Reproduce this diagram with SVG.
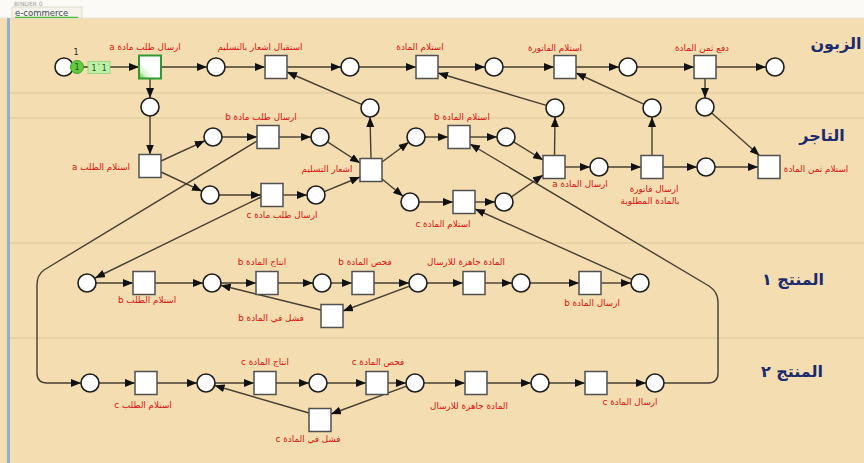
<svg xmlns="http://www.w3.org/2000/svg" width="864" height="463" viewBox="0 0 864 463">
  <style>
    .pl { fill: #ffffff; stroke: #1e1e1e; stroke-width: 1.6; }
    .tr { fill: #ffffff; stroke: #505050; stroke-width: 1.5; }
    .arc { fill: none; stroke: #463e30; stroke-width: 1.4; marker-end: url(#arr); }
    .lbl { font-family: "DejaVu Sans", sans-serif; font-size: 8.8px; fill: #e01010; text-anchor: middle; }
    .lane { font-family: "DejaVu Sans", sans-serif; font-size: 16px; font-weight: bold; fill: #1c2a6e; text-anchor: middle; }
    .sep { stroke: #dcc79c; stroke-width: 1.2; }
  </style>
  <defs>
    <marker id="arr" viewBox="0 0 10 10" refX="10" refY="5" markerWidth="10" markerHeight="8" markerUnits="userSpaceOnUse" orient="auto" preserveAspectRatio="none">
      <path d="M0,0 L10,5 L0,10 z" fill="#111111"/>
    </marker>
    <linearGradient id="enabled" x1="0" y1="1" x2="1" y2="0">
      <stop offset="0" stop-color="#4fc63a"/>
      <stop offset="0.22" stop-color="#d9f5cf"/>
      <stop offset="0.4" stop-color="#ffffff"/>
    </linearGradient>
  </defs>

  <!-- page background, window strip and lane separators -->
  <rect x="0" y="0" width="864" height="463" fill="#f4deb1"/>
  <rect x="0" y="0" width="864" height="18" fill="#fbfaf6"/>
  <line x1="0" y1="18" x2="864" y2="18" stroke="#e6e2d6" stroke-width="1"/>
  <text x="14" y="6" font-family="DejaVu Sans, sans-serif" font-size="6" fill="#9a9a9a">BINDER 0</text>
  <rect x="12" y="7" width="70" height="11" fill="#f6f3ea" stroke="#d8d4c8" stroke-width="0.8"/>
  <text x="15" y="15.5" font-family="DejaVu Sans, sans-serif" font-size="8.5" fill="#40505a">e-commerce</text>
  <line x1="15" y1="17.4" x2="78" y2="17.4" stroke="#4cbc3c" stroke-width="1.4"/>
  <rect x="7" y="18" width="3" height="445" fill="#8fb0d2"/>
  <line class="sep" x1="10" y1="93" x2="864" y2="93"/>
  <line class="sep" x1="10" y1="118" x2="864" y2="118"/>
  <line class="sep" x1="10" y1="243" x2="864" y2="243"/>
  <line class="sep" x1="10" y1="338" x2="864" y2="338"/>

  <!-- lane titles -->
  <text class="lane" x="836" y="49" direction="rtl">الزبون</text>
  <text class="lane" x="822" y="141" direction="rtl">التاجر</text>
  <text class="lane" x="793" y="285" direction="rtl">المنتج ١</text>
  <text class="lane" x="792" y="377" direction="rtl">المنتج ٢</text>

  <!-- arcs -->
  <g id="connectors">
    <!-- customer -->
    <path class="arc" d="M73,67 L139,67"/>
    <path class="arc" d="M161,67 L207,67"/>
    <path class="arc" d="M225,67 L265,67"/>
    <path class="arc" d="M287,67 L341,67"/>
    <path class="arc" d="M359,67 L416,67"/>
    <path class="arc" d="M438,67 L485,67"/>
    <path class="arc" d="M503,67 L554,67"/>
    <path class="arc" d="M576,67 L619,67"/>
    <path class="arc" d="M637,67 L694,67"/>
    <path class="arc" d="M716,67 L766,67"/>
    <path class="arc" d="M150,78.5 L150,98"/>
    <path class="arc" d="M705,78.5 L705,98"/>
    <path class="arc" d="M150,116 L150,154.5"/>
    <path class="arc" d="M711.7,113 L759.5,155.5"/>
    <!-- merchant -->
    <path class="arc" d="M161,161 L204.8,140.8"/>
    <path class="arc" d="M161,172 L201.9,191.2"/>
    <path class="arc" d="M222,137 L257,137"/>
    <path class="arc" d="M279,137 L311,137"/>
    <path class="arc" d="M219,195 L261,195"/>
    <path class="arc" d="M283,195 L307,195"/>
    <path class="arc" d="M327.5,141.9 L360,163"/>
    <path class="arc" d="M324.3,191.6 L360,177"/>
    <path class="arc" d="M371,158.5 L370,117"/>
    <path class="arc" d="M361.7,104.4 L287,72"/>
    <path class="arc" d="M382,162 L408.7,142.3"/>
    <path class="arc" d="M382,179 L403,196.3"/>
    <path class="arc" d="M425,137 L448,137"/>
    <path class="arc" d="M470,137 L497,137"/>
    <path class="arc" d="M419,202 L453,202"/>
    <path class="arc" d="M475,202 L495,202"/>
    <path class="arc" d="M513.6,141.8 L543,160"/>
    <path class="arc" d="M511.4,196.9 L543,175"/>
    <path class="arc" d="M554.5,155.5 L555,117"/>
    <path class="arc" d="M546.4,105.4 L438,73"/>
    <path class="arc" d="M565,167 L590,167"/>
    <path class="arc" d="M608,167 L641,167"/>
    <path class="arc" d="M652,155.5 L652,117"/>
    <path class="arc" d="M643.8,104.2 L576,73"/>
    <path class="arc" d="M663,167 L697,167"/>
    <path class="arc" d="M715,167 L758,167"/>
    <!-- between lanes -->
    <path class="arc" d="M257,141 L44,270 Q37,275 37,285 L37,373 Q37,383 47,383 L81,383"/>
    <path class="arc" d="M261,197 L95.1,278"/>
    <path class="arc" d="M631.8,279.3 L475,209"/>
    <path class="arc" d="M664,383 L708,383 Q718,383 718,373 L718,302 Q718,292 709,286 L470,144"/>
    <!-- producer 1 -->
    <path class="arc" d="M96,283 L133,283"/>
    <path class="arc" d="M155,283 L203,283"/>
    <path class="arc" d="M221,283 L256,283"/>
    <path class="arc" d="M278,283 L313,283"/>
    <path class="arc" d="M331,283 L352,283"/>
    <path class="arc" d="M374,283 L409,283"/>
    <path class="arc" d="M427,283 L463,283"/>
    <path class="arc" d="M485,283 L512,283"/>
    <path class="arc" d="M530,283 L579,283"/>
    <path class="arc" d="M601,283 L631,283"/>
    <path class="arc" d="M409.6,286.1 L343,311"/>
    <path class="arc" d="M321,310 L220.7,285.2"/>
    <!-- producer 2 -->
    <path class="arc" d="M99,383 L135,383"/>
    <path class="arc" d="M157,383 L197,383"/>
    <path class="arc" d="M215,383 L254,383"/>
    <path class="arc" d="M276,383 L309,383"/>
    <path class="arc" d="M327,383 L366,383"/>
    <path class="arc" d="M388,383 L406,383"/>
    <path class="arc" d="M424,383 L465,383"/>
    <path class="arc" d="M487,383 L531,383"/>
    <path class="arc" d="M549,383 L585,383"/>
    <path class="arc" d="M607,383 L646,383"/>
    <path class="arc" d="M406.6,386.1 L331,414"/>
    <path class="arc" d="M309,413 L214.6,385.5"/>
  </g>

  <!-- customer lane -->
  <g id="c-start">
    <circle class="pl" cx="64" cy="67" r="9"/>
    <text x="76" y="55" font-family="DejaVu Sans, sans-serif" font-size="8" fill="#222" text-anchor="middle">1</text>
    <circle cx="77" cy="67" r="6.5" fill="#62cc3e" stroke="#38a51e" stroke-width="1"/>
    <text x="77" y="70" font-family="DejaVu Sans, sans-serif" font-size="8" fill="#1d4a12" text-anchor="middle">1</text>
    <rect x="88" y="61.5" width="22" height="12" fill="#bff0a8" stroke="#8fd278" stroke-width="0.8"/>
    <text x="99" y="71" font-family="DejaVu Sans Mono, monospace" font-size="8.5" fill="#1f5f14" text-anchor="middle">1`1</text>
  </g>
  <g id="c-send-order-a">
    <rect x="139" y="55.5" width="22" height="23" fill="url(#enabled)" stroke="#2f9a2f" stroke-width="2"/>
    <text class="lbl" x="145" y="50" direction="rtl">ارسال طلب مادة a</text>
  </g>
  <g id="c-p1"><circle class="pl" cx="216" cy="67" r="9"/></g>
  <g id="c-receive-notice">
    <rect class="tr" x="265" y="55.5" width="22" height="23"/>
    <text class="lbl" x="260" y="50" direction="rtl">استقبال اشعار بالتسليم</text>
  </g>
  <g id="c-p2"><circle class="pl" cx="350" cy="67" r="9"/></g>
  <g id="c-receive-goods">
    <rect class="tr" x="416" y="55.5" width="22" height="23"/>
    <text class="lbl" x="420" y="50" direction="rtl">استلام المادة</text>
  </g>
  <g id="c-p3"><circle class="pl" cx="494" cy="67" r="9"/></g>
  <g id="c-receive-invoice">
    <rect class="tr" x="554" y="55.5" width="22" height="23"/>
    <text class="lbl" x="555" y="51" direction="rtl">استلام الفاتورة</text>
  </g>
  <g id="c-p4"><circle class="pl" cx="628" cy="67" r="9"/></g>
  <g id="c-pay">
    <rect class="tr" x="694" y="55.5" width="22" height="23"/>
    <text class="lbl" x="702" y="51" direction="rtl">دفع ثمن المادة</text>
  </g>
  <g id="c-end"><circle class="pl" cx="775" cy="67" r="9"/></g>
  <g id="c-order-out"><circle class="pl" cx="150" cy="107" r="9"/></g>
  <g id="c-payment-out"><circle class="pl" cx="705" cy="107" r="9"/></g>

  <!-- merchant lane -->
  <g id="m-receive-order-a">
    <rect class="tr" x="139" y="154.5" width="22" height="23"/>
    <text class="lbl" x="101" y="170" direction="rtl">استلام الطلب a</text>
  </g>
  <g id="m-p-b"><circle class="pl" cx="213" cy="137" r="9"/></g>
  <g id="m-p-c"><circle class="pl" cx="210" cy="195" r="9"/></g>
  <g id="m-send-order-b">
    <rect class="tr" x="257" y="125.5" width="22" height="23"/>
    <text class="lbl" x="261" y="120" direction="rtl">ارسال طلب مادة b</text>
  </g>
  <g id="m-send-order-c">
    <rect class="tr" x="261" y="183.5" width="22" height="23"/>
    <text class="lbl" x="282" y="218" direction="rtl">ارسال طلب مادة c</text>
  </g>
  <g id="m-p-b-sent"><circle class="pl" cx="320" cy="137" r="9"/></g>
  <g id="m-p-c-sent"><circle class="pl" cx="316" cy="195" r="9"/></g>
  <g id="m-notify">
    <rect class="tr" x="360" y="158.5" width="22" height="23"/>
    <text class="lbl" x="327" y="172" direction="rtl">اشعار التسليم</text>
  </g>
  <g id="m-notice-out"><circle class="pl" cx="370" cy="108" r="9"/></g>
  <g id="m-wait-b"><circle class="pl" cx="416" cy="137" r="9"/></g>
  <g id="m-wait-c"><circle class="pl" cx="410" cy="202" r="9"/></g>
  <g id="m-receive-b">
    <rect class="tr" x="448" y="125.5" width="22" height="23"/>
    <text class="lbl" x="462" y="120" direction="rtl">استلام المادة b</text>
  </g>
  <g id="m-receive-c">
    <rect class="tr" x="453" y="190.5" width="22" height="23"/>
    <text class="lbl" x="443" y="227" direction="rtl">استلام المادة c</text>
  </g>
  <g id="m-have-b"><circle class="pl" cx="506" cy="137" r="9"/></g>
  <g id="m-have-c"><circle class="pl" cx="504" cy="202" r="9"/></g>
  <g id="m-send-goods">
    <rect class="tr" x="543" y="155.5" width="22" height="23"/>
    <text class="lbl" x="580" y="187" direction="rtl">ارسال المادة a</text>
  </g>
  <g id="m-goods-out"><circle class="pl" cx="555" cy="108" r="9"/></g>
  <g id="m-p-sent"><circle class="pl" cx="599" cy="167" r="9"/></g>
  <g id="m-send-invoice">
    <rect class="tr" x="641" y="155.5" width="22" height="23"/>
    <text class="lbl" x="654" y="192" direction="rtl">ارسال فاتورة</text>
    <text class="lbl" x="650" y="204" direction="rtl">بالمادة المطلوبة</text>
  </g>
  <g id="m-invoice-out"><circle class="pl" cx="652" cy="108" r="9"/></g>
  <g id="m-p-invoiced"><circle class="pl" cx="706" cy="167" r="9"/></g>
  <g id="m-receive-payment">
    <rect class="tr" x="758" y="155.5" width="22" height="23"/>
    <text class="lbl" x="816" y="172" direction="rtl">استلام ثمن المادة</text>
  </g>

  <!-- producer 1 lane -->
  <g id="p1-in"><circle class="pl" cx="87" cy="283" r="9"/></g>
  <g id="p1-receive-order">
    <rect class="tr" x="133" y="271.5" width="22" height="23"/>
    <text class="lbl" x="147" y="303" direction="rtl">استلام الطلب b</text>
  </g>
  <g id="p1-ordered"><circle class="pl" cx="212" cy="283" r="9"/></g>
  <g id="p1-produce">
    <rect class="tr" x="256" y="271.5" width="22" height="23"/>
    <text class="lbl" x="262" y="265" direction="rtl">انتاج المادة b</text>
  </g>
  <g id="p1-produced"><circle class="pl" cx="322" cy="283" r="9"/></g>
  <g id="p1-check">
    <rect class="tr" x="352" y="271.5" width="22" height="23"/>
    <text class="lbl" x="365" y="265" direction="rtl">فحص المادة b</text>
  </g>
  <g id="p1-checked"><circle class="pl" cx="418" cy="283" r="9"/></g>
  <g id="p1-ready">
    <rect class="tr" x="463" y="271.5" width="22" height="23"/>
    <text class="lbl" x="466" y="265" direction="rtl">المادة جاهزة للارسال</text>
  </g>
  <g id="p1-waiting"><circle class="pl" cx="521" cy="283" r="9"/></g>
  <g id="p1-ship">
    <rect class="tr" x="579" y="271.5" width="22" height="23"/>
    <text class="lbl" x="592" y="306" direction="rtl">ارسال المادة b</text>
  </g>
  <g id="p1-out"><circle class="pl" cx="640" cy="283" r="9"/></g>
  <g id="p1-fail">
    <rect class="tr" x="321" y="304.5" width="22" height="23"/>
    <text class="lbl" x="271" y="321" direction="rtl">فشل في المادة b</text>
  </g>

  <!-- producer 2 lane -->
  <g id="p2-in"><circle class="pl" cx="90" cy="383" r="9"/></g>
  <g id="p2-receive-order">
    <rect class="tr" x="135" y="371.5" width="22" height="23"/>
    <text class="lbl" x="143" y="408" direction="rtl">استلام الطلب c</text>
  </g>
  <g id="p2-ordered"><circle class="pl" cx="206" cy="383" r="9"/></g>
  <g id="p2-produce">
    <rect class="tr" x="254" y="371.5" width="22" height="23"/>
    <text class="lbl" x="265" y="365" direction="rtl">انتاج المادة c</text>
  </g>
  <g id="p2-produced"><circle class="pl" cx="318" cy="383" r="9"/></g>
  <g id="p2-check">
    <rect class="tr" x="366" y="371.5" width="22" height="23"/>
    <text class="lbl" x="378" y="365" direction="rtl">فحص المادة c</text>
  </g>
  <g id="p2-checked"><circle class="pl" cx="415" cy="383" r="9"/></g>
  <g id="p2-ready">
    <rect class="tr" x="465" y="371.5" width="22" height="23"/>
    <text class="lbl" x="469" y="409" direction="rtl">المادة جاهزة للارسال</text>
  </g>
  <g id="p2-waiting"><circle class="pl" cx="540" cy="383" r="9"/></g>
  <g id="p2-ship">
    <rect class="tr" x="585" y="371.5" width="22" height="23"/>
    <text class="lbl" x="630" y="405" direction="rtl">ارسال المادة c</text>
  </g>
  <g id="p2-out"><circle class="pl" cx="655" cy="383" r="9"/></g>
  <g id="p2-fail">
    <rect class="tr" x="309" y="408.5" width="22" height="23"/>
    <text class="lbl" x="308" y="442" direction="rtl">فشل في المادة c</text>
  </g>
</svg>
